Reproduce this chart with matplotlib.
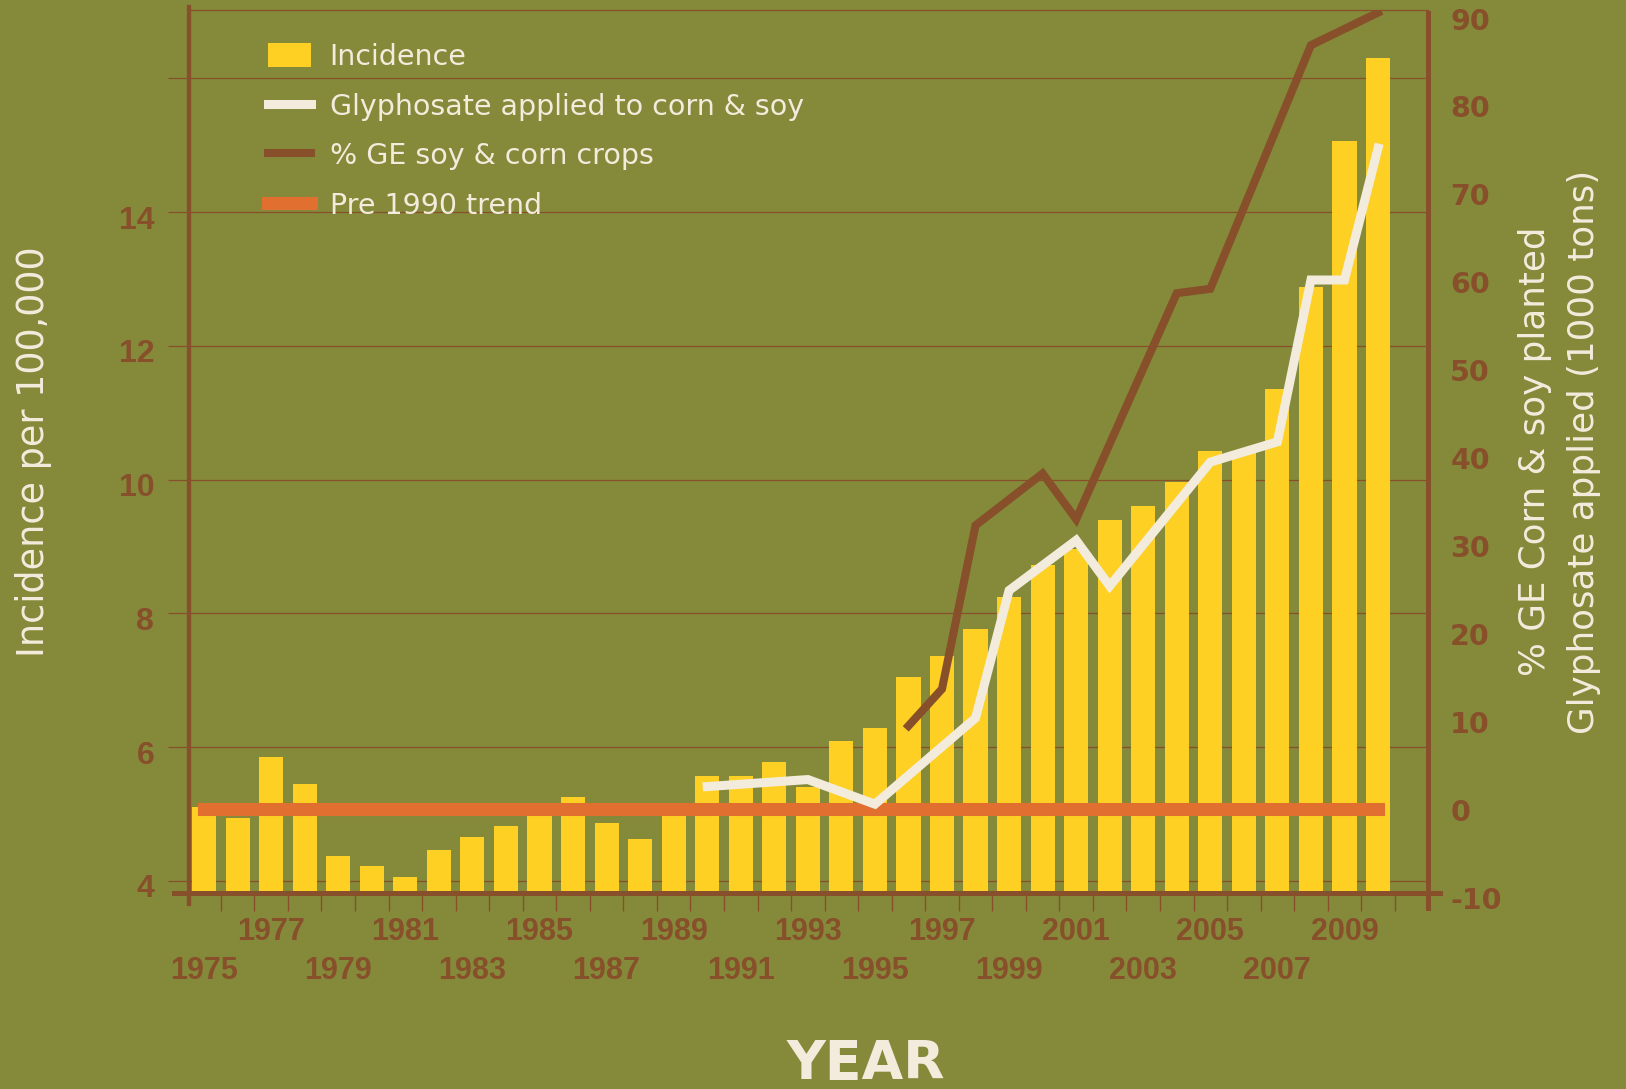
import numpy as np
import matplotlib.pyplot as plt
from matplotlib.transforms import ScaledTranslation

# Dane
years = list(range(1975, 2011))
incidence = [5.1, 4.94, 5.85, 5.45, 4.38, 4.22, 4.06, 4.46, 4.65, 4.82,
             5.05, 5.25, 4.86, 4.62, 5.05, 5.57, 5.57, 5.78, 5.4, 6.09,
             6.29, 7.05, 7.37, 7.77, 8.24, 8.73, 8.96, 9.4, 9.6, 9.96,
             10.43, 10.43, 11.36, 12.88, 15.06, 16.3]

gly_years = [1990, 1993, 1995, 1998, 1999, 2001, 2002, 2005, 2007, 2008, 2009, 2010]
glyphosate = [2.1, 2.9, 0.1, 9.9, 24.4, 30.1, 24.9, 39.0, 41.3, 59.7, 59.7, 74.7]

ge_years = [1996, 1997, 1998, 2000, 2001, 2004, 2005, 2008, 2010]
ge_pct = [9.0, 13.2, 31.8, 37.7, 32.5, 58.2, 58.7, 86.4, 90.1]

trend_years = [1975, 2010]
trend = [5.07, 5.07]

label_years = list(range(1975, 2010, 2))
left_ticks = [4, 6, 8, 10, 12, 14, 16]
right_ticks = list(range(-10, 91, 10))

# Kolory
BG = '#848a3a'
YELLOW = '#fdd023'
BROWN = '#874f2a'
CREAM = '#f3ebdc'
ORANGE = '#e06f30'

fig = plt.figure(figsize=(16.26, 10.89), dpi=100, facecolor=BG)
ax = fig.add_axes([189 / 1626, 1 - 893 / 1089, (1428 - 189) / 1626, (893 - 10) / 1089])
ax.set_facecolor(BG)
ax.set_axisbelow(True)

bars = ax.bar(years, incidence, width=0.72, color=YELLOW, zorder=2)
trend_line, = ax.plot(trend_years, trend, color=ORANGE, lw=9.4,
                      solid_capstyle='projecting', zorder=3)

ax.set_xlim(1974.55, 2011.49)
ax.set_ylim(3.82, 17.02)
ax.grid(axis='y', color=BROWN, lw=0.9)

ax.set_yticks(left_ticks)
ax.set_yticklabels([str(v) if v < 16 else '' for v in left_ticks],
                   fontfamily='Liberation Sans', fontweight='bold')
ax.tick_params(axis='y', length=15, width=0.9, color=BROWN, pad=10,
               labelsize=23, labelcolor=BROWN)

ax.set_xticks(label_years)
ax.set_xticklabels([('\n' if i % 2 == 0 else '') + str(y) for i, y in enumerate(label_years)],
                   fontfamily='Liberation Sans', fontweight='bold')
for lab in ax.get_xticklabels():
    lab.set_linespacing(1.42)
ax.set_xticks(np.arange(1975.5, 2011, 1), minor=True)
ax.tick_params(axis='x', which='major', length=0, pad=17, labelsize=22, labelcolor=BROWN)
ax.tick_params(axis='x', which='minor', length=13, width=1, color=BROWN)

ax.spines['right'].set_visible(False)
ax.spines['top'].set_color(BROWN)
ax.spines['top'].set_linewidth(0.9)
ax.spines['left'].set_color(BROWN)
ax.spines['left'].set_linewidth(3.1)
ax.spines['left'].set_bounds(3.66, 17.06)
ax.spines['bottom'].set_color(BROWN)
ax.spines['bottom'].set_linewidth(3.6)
ax.spines['bottom'].set_bounds(1974.1, 2011.85)

ax.set_ylabel('Incidence per 100,000', color=CREAM, fontsize=26.3, labelpad=48)

# Oś prawa
ax2 = ax.twinx()
ge_line, = ax2.plot(ge_years, ge_pct, color=BROWN, lw=5.8, solid_joinstyle='miter')
gly_line, = ax2.plot(gly_years, glyphosate, color=CREAM, lw=6.5, solid_joinstyle='miter')
ax2.set_ylim(-10, 90.4)
ax2.set_yticks(right_ticks)
ax2.set_yticklabels([str(v) for v in right_ticks], fontfamily='DejaVu Sans', fontweight='bold')
ax2.tick_params(axis='y', length=0, pad=16, labelsize=20.5, labelcolor=BROWN)
for s in ['left', 'top', 'bottom']:
    ax2.spines[s].set_visible(False)
ax2.spines['right'].set_color(BROWN)
ax2.spines['right'].set_linewidth(3.6)
ax2.spines['right'].set_bounds(-11.7, 90.1)
ax2.set_ylabel('% GE Corn & soy planted\nGlyphosate applied (1000 tons)',
               color=CREAM, fontsize=25.7, labelpad=12, linespacing=1.55)

# przesunięcie etykiet osi y lekko w dół
off = ScaledTranslation(0, -5 / 100, fig.dpi_scale_trans)
for lab in ax.get_yticklabels() + ax2.get_yticklabels():
    lab.set_transform(lab.get_transform() + off)

ax.legend([bars, gly_line, ge_line, trend_line],
          ['Incidence', 'Glyphosate applied to corn & soy', '% GE soy & corn crops', 'Pre 1990 trend'],
          loc='upper left', bbox_to_anchor=((268 - 189) / 1239, (893 - 43) / 883),
          frameon=False, fontsize=20.5, labelcolor=CREAM, handlelength=1.5,
          handleheight=0.9, handletextpad=0.66, borderpad=0, borderaxespad=0,
          labelspacing=0.76)

fig.text(866 / 1626, 1 - 1079 / 1089, 'YEAR', ha='center', va='baseline',
         fontsize=38.7, fontweight='bold', color=CREAM)

fig.savefig('out.png', dpi=100, facecolor=BG)
